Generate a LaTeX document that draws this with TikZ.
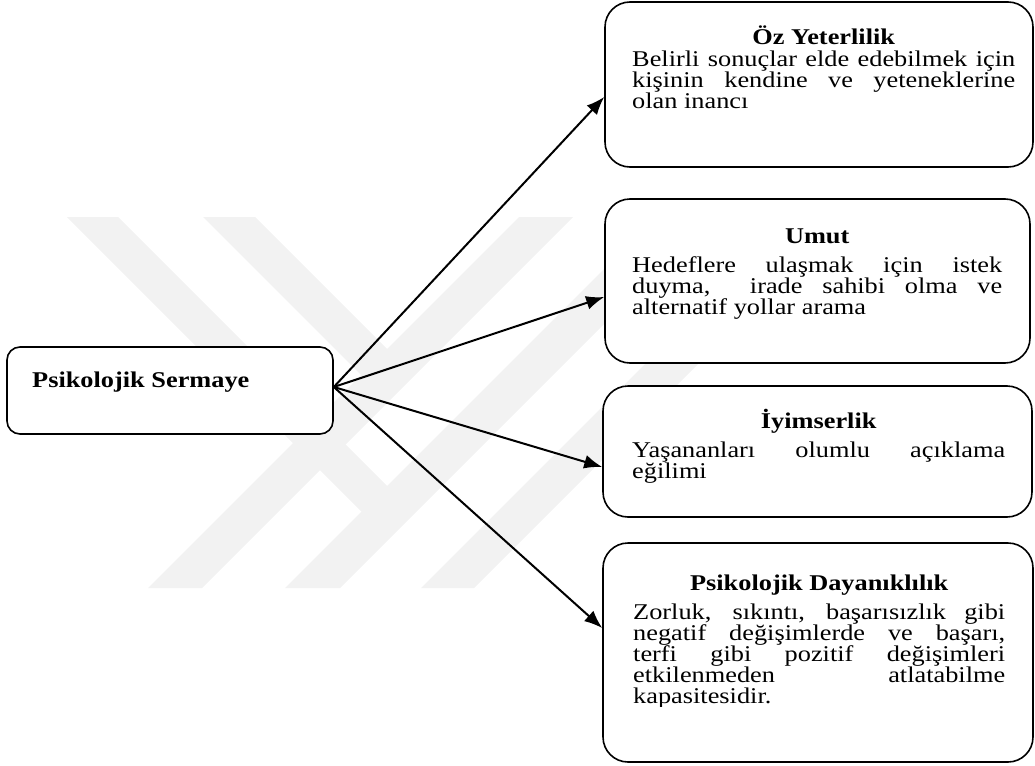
\documentclass[tikz,border=0pt]{standalone}
\usepackage{fontspec}
\setmainfont{Liberation Serif}[UprightFeatures={FakeStretch=1.17},BoldFeatures={FakeStretch=1.17}]
\usetikzlibrary{arrows.meta,positioning}
\setlength\parindent{0pt}
\setlength\lineskiplimit{-100pt}

\begin{document}
\begin{tikzpicture}[x=1pt,y=-1pt,
    frame/.style={draw,line width=1.6pt,rounded corners=25pt,fill=white,inner sep=0pt},
    body/.style={inner sep=0pt,anchor=north west,align=justify,
      font=\fontsize{22.5pt}{21pt}\selectfont},
    head/.style={inner sep=0pt,anchor=base west,font=\fontsize{22.5pt}{21pt}\selectfont\bfseries},
    link/.style={line width=2pt,-{Latex[length=18pt,width=14pt]}},
    wm/.style={fill=gray!10}]
    \useasboundingbox (0,0) rectangle (1035,765);
    % faint watermark stripes
    \fill[wm] (148,588) -- (202,588) -- (573,217) -- (519,217) -- cycle;
    \fill[wm] (285,588) -- (340,588) -- (711,217) -- (656,217) -- cycle;
    \fill[wm] (421,588) -- (474,588) -- (845,217) -- (792,217) -- cycle;
    \fill[wm] (203,217) -- (255,217) -- (387,349) -- (388,402) -- cycle;
    \fill[wm] (67,217) -- (118,217) -- (387,486) -- (389,539) -- cycle;

    % boxes
    \node[frame,rounded corners=13pt,minimum width=326pt,minimum height=87pt] (ps) at (170,390.5) {};
    \node[head] (pst) at (32,387) {Psikolojik Sermaye};

    \node[frame,minimum width=428pt,minimum height=165pt] (oz) at (819,84.5) {};
    \node[body,text width=383pt] (ozt) at (632,24)
        {\makebox[\hsize]{\bfseries\vrule height 20pt width 0pt Öz Yeterlilik}\\[1pt]
         Belirli sonuçlar elde edebilmek için\linebreak
         kişinin kendine ve yeteneklerine\linebreak
         olan inancı};

    \node[frame,minimum width=425pt,minimum height=164pt] (um) at (817.5,281) {};
    \node[body,text width=370pt] (umt) at (632,223)
        {\makebox[\hsize]{\bfseries\vrule height 20pt width 0pt Umut}\\[8pt]
         Hedeflere ulaşmak için istek\linebreak
         duyma,\ \ irade sahibi olma ve\linebreak
         alternatif yollar arama};

    \node[frame,minimum width=429pt,minimum height=131pt] (iy) at (817.5,451.5) {};
    \node[body,text width=373pt] (iyt) at (632,408)
        {\makebox[\hsize]{\bfseries\vrule height 20pt width 0pt İyimserlik}\\[8pt]
         Yaşananları olumlu açıklama\linebreak
         eğilimi};

    \node[frame,minimum width=430pt,minimum height=219pt] (pd) at (818,652.5) {};
    \begin{scope}
        \clip (600,540) rectangle (1035,706);
        \node[body,text width=372pt] (pdt) at (633,570)
            {\makebox[\hsize]{\bfseries\vrule height 20pt width 0pt Psikolojik Dayanıklılık}\\[8pt]
             Zorluk, sıkıntı, başarısızlık gibi\linebreak
             negatif değişimlerde ve başarı,\linebreak
             terfi gibi pozitif değişimleri\linebreak
             etkilenmeden atlatabilme\linebreak
             kapasitesidir.};
    \end{scope}

    % arrows
    \draw[link] ([yshift=3.5pt]ps.east) -- ([yshift=-12.5pt]oz.west);
    \draw[link] ([yshift=3.5pt]ps.east) -- ([yshift=-16pt]um.west);
    \draw[link] ([yshift=3.5pt]ps.east) -- ([yshift=-15.5pt]iy.west);
    \draw[link] ([yshift=3.5pt]ps.east) -- ([yshift=24.5pt]pd.west);
\end{tikzpicture}
\end{document}
